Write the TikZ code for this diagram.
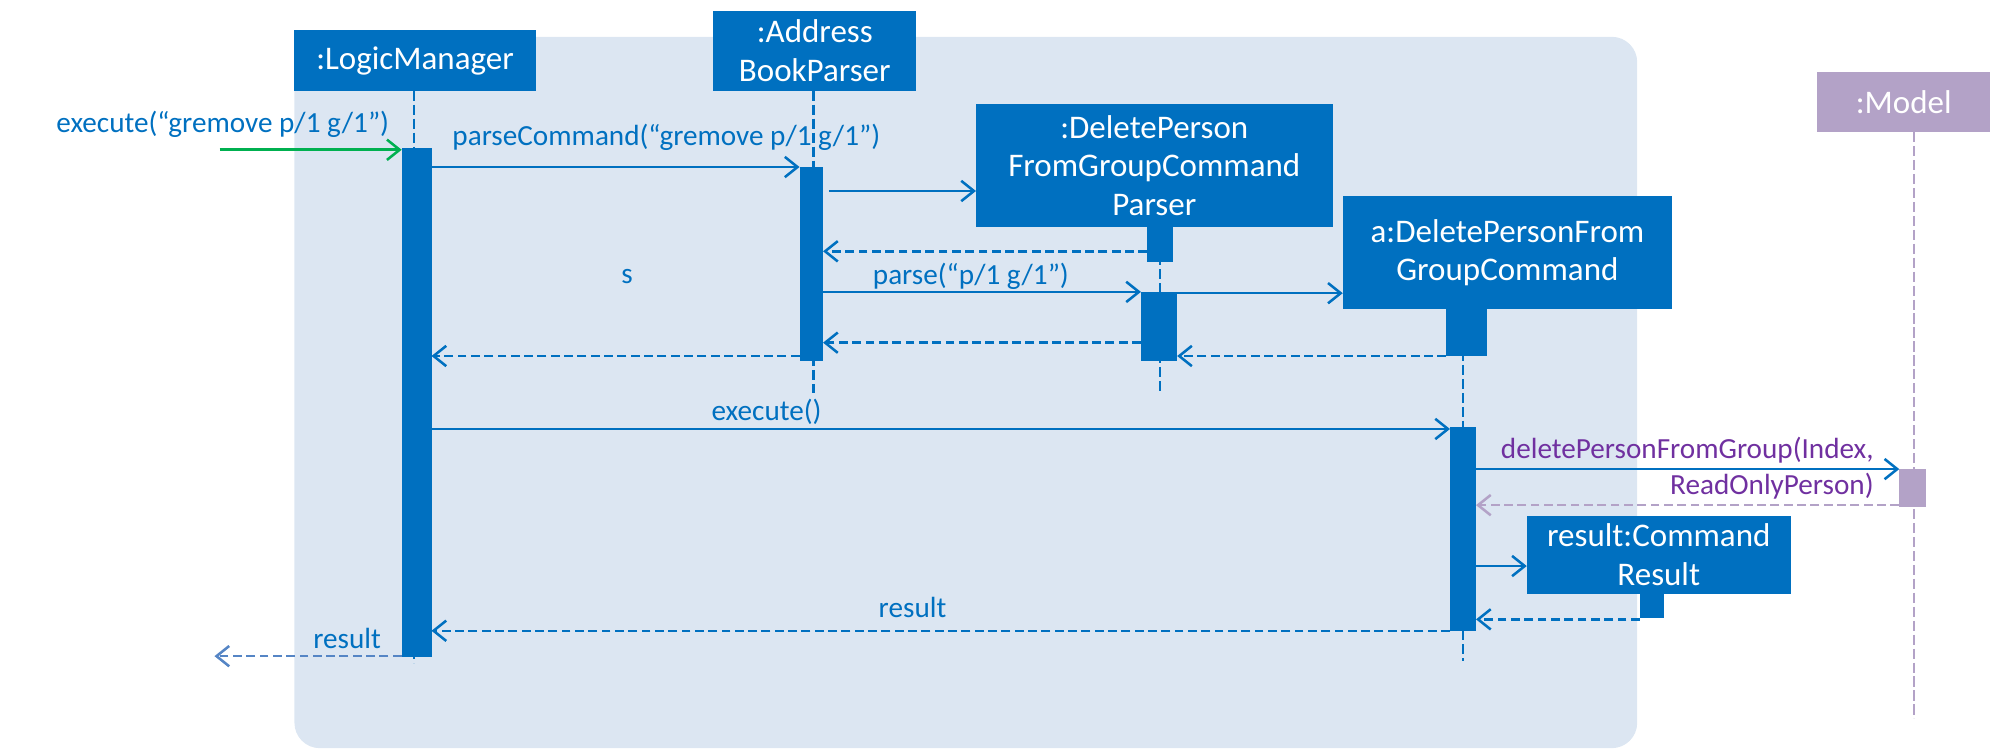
\documentclass[tikz,border=0pt]{standalone}
\usepackage{fontspec}
\setmainfont{Carlito}
\usetikzlibrary{arrows.meta}
\definecolor{boxblue}{HTML}{0070C0}
\definecolor{bgblue}{HTML}{DCE6F2}
\definecolor{modelpurple}{HTML}{B3A2C7}
\definecolor{textpurple}{HTML}{7030A0}
\definecolor{okgreen}{HTML}{00B050}
\definecolor{paleblue}{HTML}{5585C5}
\tikzset{
  objbox/.style={fill=boxblue, text=white, align=center, inner sep=0pt, outer sep=0pt,
    font=\fontsize{26}{30.5}\selectfont},
  bar/.style={fill=boxblue, inner sep=0pt, outer sep=0pt, anchor=north},
  life/.style={boxblue, line width=1.8pt, dash pattern=on 8pt off 3pt},
  msg/.style={boxblue, line width=2pt, -{Straight Barb[length=10pt,width=16pt]}},
  ret/.style={msg, dash pattern=on 7pt off 3.5pt},
  lbl/.style={text=boxblue, inner sep=0pt, font=\fontsize{23}{28}\selectfont}
}
\begin{document}
\begin{tikzpicture}[x=1pt,y=-1pt]
  \useasboundingbox (0,0) rectangle (1568,590);
  \fill[bgblue, rounded corners=20pt] (232,29) rectangle (1290,589.5);

  % objects
  \node[objbox, minimum width=190pt, minimum height=47.5pt] (lm) at (327,47.75) {:LogicManager};
  \node[objbox, minimum width=160pt, minimum height=63pt] (abp) at (642,40) {:Address\\BookParser};
  \node[objbox, minimum width=281pt, minimum height=97pt] (par) at (909.5,130.5) {:DeletePerson\\FromGroupCommand\\Parser};
  \node[objbox, minimum width=259.5pt, minimum height=89pt] (cmd) at (1187.75,199) {a:DeletePersonFrom\\GroupCommand};
  \node[objbox, fill=modelpurple, minimum width=136pt, minimum height=47.3pt] (model) at (1500,80.35) {:Model};

  % lifelines
  \draw[life] (lm.south -| 326,0) -- (326,522.5);
  \draw[life] (abp.south -| 641,0) -- (641,310);
  \draw[life] (par.south -| 914,0) -- (914,310);
  \draw[life] (cmd.south -| 1153,0) -- (1153,521);
  \draw[life, modelpurple] (model.south -| 1508,0) -- (1508,566);

  % activation bars
  \node[bar, minimum width=23.5pt, minimum height=400.5pt] (lmBar) at (328.25,117) {};
  \node[bar, minimum width=18.5pt, minimum height=153pt] (abpBar) at (639.25,131.6) {};
  \node[bar, minimum width=20pt, minimum height=27.5pt] (parBarA) at (914,179) {};
  \node[bar, minimum width=28.5pt, minimum height=54.5pt] (parBarB) at (913.25,230) {};
  \node[bar, minimum width=32.5pt, minimum height=37pt] (cmdBarA) at (1155.75,243.5) {};
  \node[bar, minimum width=20.5pt, minimum height=160.5pt] (cmdBarB) at (1152.75,336.5) {};
  \node[bar, fill=modelpurple, minimum width=21pt, minimum height=30pt] (modelBar) at (1507,369.6) {};
  \node[objbox, minimum width=208pt, minimum height=61.4pt] (res) at (1307,437.3) {result:Command\\Result};
  \node[bar, minimum width=19pt, minimum height=19pt] (resBar) at (1301.5,468) {};

  % messages
  \coordinate (userIn) at (173,118);
  \coordinate (userOut) at (169,517);
  \draw[msg, okgreen] (userIn) -- (lmBar.west |- userIn);
  \node[lbl] (lblExecute) at (175.5,98) {execute(“gremove p/1 g/1”)};
  \draw[msg] (lmBar.east |- 0,131.6) -- (abpBar.west |- 0,131.6);
  \node[lbl] (lblParseCmd) at (525,108) {parseCommand(“gremove p/1 g/1”)};
  \draw[msg] ([xshift=4.5pt]abpBar.east |- 0,150.5) -- (par.west |- 0,150.5);
  \draw[ret] (parBarA.west |- 0,198) -- (abpBar.east |- 0,198);
  \draw[msg] (abpBar.east |- 0,230) -- (parBarB.west |- 0,230);
  \node[lbl] (lblParse) at (765,218) {parse(“p/1 g/1”)};
  \draw[msg] (parBarB.east |- 0,231) -- (cmd.west |- 0,231);
  \draw[ret] (cmdBarA.west |- 0,280.5) -- (parBarB.east |- 0,280.5);
  \draw[ret] (parBarB.west |- 0,270) -- (abpBar.east |- 0,270);
  \draw[ret] (abpBar.west |- 0,280.5) -- (lmBar.east |- 0,280.5);
  \node[lbl] (lblS) at (494,217.5) {s};
  \draw[msg] (lmBar.east |- 0,338) -- (cmdBarB.west |- 0,338);
  \node[lbl] (lblExec) at (604,324.5) {execute()};
  \draw[msg] (cmdBarB.east |- 0,369.6) -- (modelBar.west |- 0,369.6);
  \node[lbl, text=textpurple, align=right, anchor=east] (lblDelete) at (1476.5,369) {deletePersonFromGroup(Index,\\ReadOnlyPerson)};
  \draw[ret, modelpurple] (modelBar.west |- 0,398) -- (cmdBarB.east |- 0,398);
  \draw[msg] (cmdBarB.east |- 0,446) -- (res.west |- 0,446);
  \draw[ret] (resBar.west |- 0,488) -- (cmdBarB.east |- 0,488);
  \draw[ret] (cmdBarB.west |- 0,497) -- (lmBar.east |- 0,497);
  \node[lbl] (lblResult) at (719,479) {result};
  \draw[ret, paleblue] (lmBar.west |- userOut) -- (userOut);
  \node[lbl] (lblResultOut) at (273.5,503) {result};
\end{tikzpicture}
\end{document}
